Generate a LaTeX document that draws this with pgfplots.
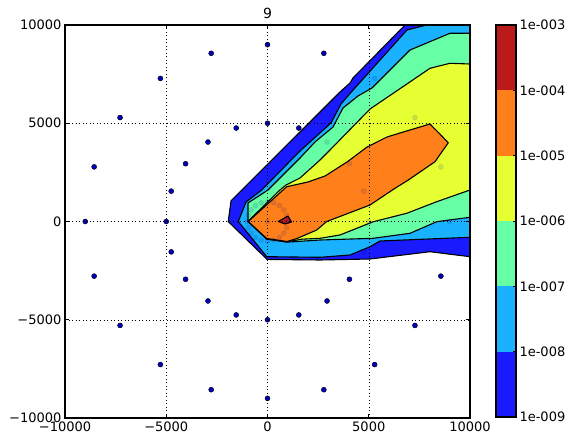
\documentclass[border=0pt]{standalone}
\usepackage{fontspec}
\setmainfont{DejaVu Sans}
\usepackage{pgfplots}
\pgfplotsset{compat=1.18}
\definecolor{c1}{RGB}{26,26,255}
\definecolor{c2}{RGB}{26,178,255}
\definecolor{c3}{RGB}{102,255,166}
\definecolor{c4}{RGB}{230,255,51}
\definecolor{c5}{RGB}{255,128,26}
\definecolor{c6}{RGB}{187,26,26}
\definecolor{pt}{RGB}{0,0,190}
\pgfplotsset{
  cband/.style={draw=black, line width=1.1pt, line join=round, fill=#1},
  cbar/.style={draw=none, fill=#1},
  pts/.style={only marks, mark=*, mark size=2.5pt, mark options={fill=pt, draw=black, line width=0.4pt}},
  fpts/.style={only marks, mark=*, mark size=2.5pt, mark options={fill=pt, draw=black, line width=0.4pt, opacity=0.12}},
}
\pgfplotstableread{
x y
0 0
1000 0
951 309
809 588
588 809
309 951
0 1000
-309 951
-588 809
-809 588
-951 309
-1000 0
-951 -309
-809 -588
-588 -809
-309 -951
0 -1000
309 -951
588 -809
809 -588
951 -309
5000 0
4755 1545
4045 2939
2939 4045
1545 4755
0 5000
-1545 4755
-2939 4045
-4045 2939
-4755 1545
-5000 0
-4755 -1545
-4045 -2939
-2939 -4045
-1545 -4755
0 -5000
1545 -4755
2939 -4045
4045 -2939
4755 -1545
9000 0
8560 2781
7281 5290
5290 7281
2781 8560
0 9000
-2781 8560
-5290 7281
-7281 5290
-8560 2781
-9000 0
-8560 -2781
-7281 -5290
-5290 -7281
-2781 -8560
0 -9000
2781 -8560
5290 -7281
7281 -5290
8560 -2781
}\pointtable
\begin{document}
\begin{tikzpicture}[x=1pt,y=1pt]
\path[use as bounding box] (0,0) rectangle (569,434);
\begin{axis}[at={(65pt,16pt)}, anchor=south west, scale only axis,
  width=405pt, height=393pt,
  xmin=-10000, xmax=10000, ymin=-10000, ymax=10000,
  xtick={-10000,-5000,0,5000,10000}, ytick={-10000,-5000,0,5000,10000},
  xticklabels={−10000,−5000,0,5000,10000},
  yticklabels={−10000,−5000,0,5000,10000},
  scaled ticks=false, clip marker paths=true,
  grid=major, grid style={black, line width=0.5pt, dash pattern=on 1pt off 2.5pt},
  axis on top, axis line style={black, line width=1.1pt},
  tick align=inside, major tick length=4pt, tick style={black, line width=0.8pt},
  tick label style={font=\fontsize{13}{15}\selectfont},
]
\addplot[pts] table[x=x,y=y] {\pointtable};
% >= 1e-9
\addplot[cband=c1] coordinates {(10000,10000) (6790,10000) (4222,7303) (4074,7048) (3580,6590) (-1800,1050) (-1940,0) (-20,-1930) (2593,-1959) (5062,-1908) (8025,-1537) (10000,-1791)} -- cycle;
% >= 1e-8
\addplot[cband=c2] coordinates {(10000,10000) (7862,10000) (6889,9746) (4074,6514) (3630,5980) (3136,5013) (1605,3588) (-286,1603) (-1062,992) (-1440,0) (-40,-1790) (2593,-1822) (4074,-1705) (5062,-1283) (5556,-992) (10000,-804)} -- cycle;
% >= 1e-7
\addplot[cband=c3] coordinates {(10000,9578) (9012,9578) (7037,8728) (5161,6794) (4469,6387) (3728,5776) (3235,4809) (2346,4046) (1605,3231) (25,1603) (-963,941) (-963,0) (-40,-900) (963,-1050) (2593,-942) (5210,-855) (7037,-601) (8356,-10) (10000,214)} -- cycle;
% >= 1e-6
\addplot[cband=c4] coordinates {(10000,8015) (9012,8051) (8025,7796) (5062,5725) (3086,3639) (2593,3130) (1605,2214) (914,1857) (617,1603) (-963,10) (-40,-880) (963,-1030) (1700,-900) (2593,-855) (3580,-687) (5225,-10) (6874,417) (8356,1007) (10000,1603)} -- cycle;
% >= 1e-5
\addplot[cband=c5] coordinates {(-950,0) (948,1771) (2000,2010) (2840,2315) (3926,3028) (4914,3791) (5901,4300) (6543,4504) (8025,4962) (8929,4010) (8272,3043) (6953,2112) (6296,1689) (5062,840) (3990,417) (2924,0) (2430,-433) (1457,-865) (963,-1018) (-40,-865)} -- cycle;
% >= 1e-4
\addplot[cband=c6] coordinates {(533,0) (1012,280) (1185,-26) (864,-127)} -- cycle;
\addplot[fpts] table[x=x,y=y] {\pointtable};
\end{axis}
\node[anchor=base, font=\fontsize{14}{16}\selectfont] at (267.5,415) {9};
\begin{axis}[at={(496pt,17pt)}, anchor=south west, scale only axis,
  width=20pt, height=392pt,
  xmin=0, xmax=1, ymin=0, ymax=6,
  xtick=\empty, ytick={0,1,2,3,4,5,6},
  yticklabels={1e-009,1e-008,1e-007,1e-006,1e-005,1e-004,1e-003},
  yticklabel pos=right, ytick pos=right,
  axis on top, axis line style={black, line width=1.1pt},
  tick align=inside, major tick length=3pt, tick style={black, line width=0.8pt},
  tick label style={font=\fontsize{13}{15}\selectfont},
]
\addplot[cbar=c1] coordinates {(0,0) (1,0) (1,1) (0,1)} -- cycle;
\addplot[cbar=c2] coordinates {(0,1) (1,1) (1,2) (0,2)} -- cycle;
\addplot[cbar=c3] coordinates {(0,2) (1,2) (1,3) (0,3)} -- cycle;
\addplot[cbar=c4] coordinates {(0,3) (1,3) (1,4) (0,4)} -- cycle;
\addplot[cbar=c5] coordinates {(0,4) (1,4) (1,5) (0,5)} -- cycle;
\addplot[cbar=c6] coordinates {(0,5) (1,5) (1,6) (0,6)} -- cycle;
\end{axis}
\end{tikzpicture}
\end{document}
